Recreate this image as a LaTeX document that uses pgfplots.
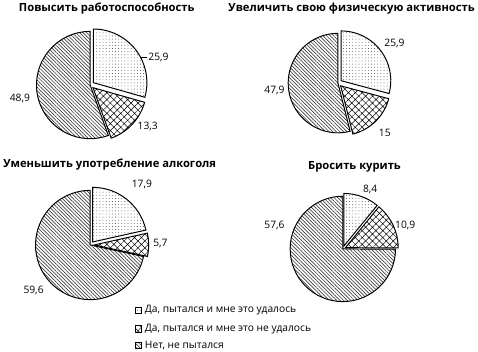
\documentclass[border=0pt]{standalone}
\usepackage{pgfplots}
\pgfplotsset{compat=1.18}
\usetikzlibrary{patterns.meta}
\usepackage{fontspec}
\setmainfont{Open Sans}
\tikzset{
  sdots/.style={pattern={Dots[distance=3.2pt, radius=0.45pt]}, pattern color=black!75},
  scross/.style={pattern={Hatch[angle=45, distance=5pt, line width=0.5pt]}, pattern color=black},
  sstripe/.style={pattern={Lines[angle=-45, distance=2.6pt, line width=0.7pt]}, pattern color=black!75},
}
% cx cy r start end explode style
\newcommand{\slice}[7]{%
  \filldraw[#7, draw=black, line width=1pt, line join=miter, shift={({((#4)+(#5))/2}:#6pt)}]
    (axis cs:#1,#2) -- ++({#4}:#3pt) arc[start angle={#4}, end angle={#5}, radius=#3pt] -- cycle;}
% cx cy r a b c explodeA explodeB
\newcommand{\pie}[8]{%
  \slice{#1}{#2}{#3}{90-360*(#4+#5)/(#4+#5+#6)}{-270}{0}{sstripe}
  \slice{#1}{#2}{#3}{90-360*(#4)/(#4+#5+#6)}{90-360*(#4+#5)/(#4+#5+#6)}{#8}{scross}
  \slice{#1}{#2}{#3}{90}{90-360*(#4)/(#4+#5+#6)}{#7}{sdots}}
\begin{document}
\begin{tikzpicture}
\begin{axis}[width=478pt, height=359pt, scale only axis, xmin=0, xmax=478, ymin=0, ymax=359,
  y dir=reverse, hide axis, clip=false]
\path (rel axis cs:0,0) rectangle (rel axis cs:1,1);
% pies: values in percent
\pie{88}{86}{55}{25.9}{13.3}{48.9}{4}{4}
\pie{342}{84}{51}{25.9}{15}{47.9}{4}{4}
\pie{88}{250}{56}{17.9}{5.7}{59.6}{4}{4}
\pie{347}{254}{54}{8.4}{10.9}{57.6}{3}{3}
% titles
\begin{scope}[font=\bfseries\fontsize{11.5}{13}\selectfont]
\node at (axis cs:105,8) {Повысить работоспособность};
\node at (axis cs:356,8) {Увеличить свою физическую активность};
\node at (axis cs:108,168) {Уменьшить употребление алкоголя};
\node at (axis cs:359,170) {Бросить курить};
\end{scope}
% value labels
\begin{scope}[font=\fontsize{10.5}{12}\selectfont]
\draw[line width=0.6pt] (axis cs:139,58) -- (axis cs:146,58);
\node at (axis cs:158,58) {25,9};
\node at (axis cs:147,128) {13,3};
\node at (axis cs:16,100) {48,9};
\node at (axis cs:400,43) {25,9};
\node at (axis cs:390,135) {15};
\node at (axis cs:277,92) {47,9};
\node at (axis cs:141,188) {17,9};
\node at (axis cs:160,248) {5,7};
\node at (axis cs:30,297) {59,6};
\node at (axis cs:375,193) {8,4};
\node at (axis cs:411,230) {10,9};
\node at (axis cs:277,230) {57,6};
\end{scope}
% legend
\begin{scope}[font=\fontsize{10.5}{12}\selectfont]
\filldraw[sdots, draw=black, line width=0.9pt] (axis cs:134,313.5) rectangle (axis cs:141,320.5);
\filldraw[scross, draw=black, line width=0.9pt] (axis cs:134,332.5) rectangle (axis cs:141,339.5);
\filldraw[sstripe, draw=black, line width=0.9pt] (axis cs:134,349.5) rectangle (axis cs:141,356.5);
\node[anchor=west, inner sep=0pt] at (axis cs:144,317) {Да, пытался и мне это удалось};
\node[anchor=west, inner sep=0pt] at (axis cs:144,336) {Да, пытался и мне это не удалось};
\node[anchor=west, inner sep=0pt] at (axis cs:144,353) {Нет, не пытался};
\end{scope}
\end{axis}
\end{tikzpicture}
\end{document}
